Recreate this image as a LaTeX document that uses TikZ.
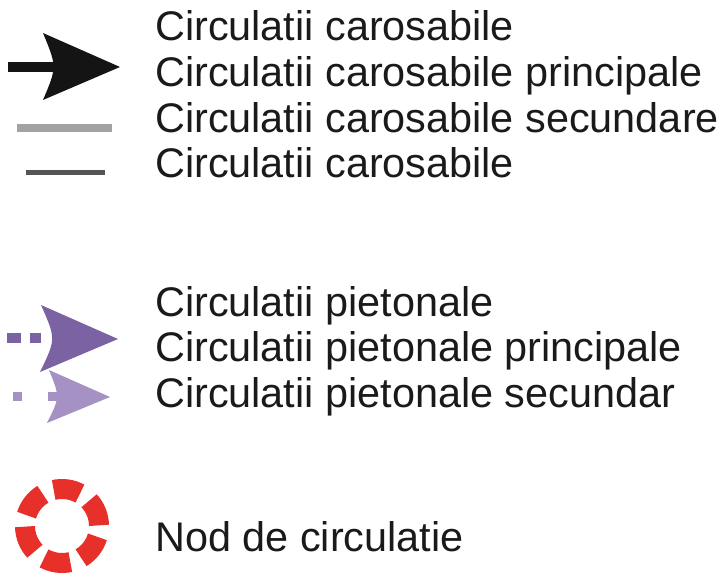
\documentclass[tikz,border=0pt]{standalone}
\usepackage{fontspec}
\setmainfont{Liberation Sans}
\definecolor{txtgray}{HTML}{1A1A1A}
\definecolor{carblack}{HTML}{141414}
\definecolor{carlight}{HTML}{A3A3A3}
\definecolor{cardark}{HTML}{555555}
\definecolor{pedmain}{HTML}{7B62A3}
\definecolor{pedlight}{HTML}{A591C4}
\definecolor{nodred}{HTML}{E8302A}
\tikzset{
  legtext/.style={anchor=base west, inner sep=0pt, text=txtgray,
    font=\fontsize{41.4}{49}\selectfont}
}
\begin{document}
\begin{tikzpicture}[x=1pt,y=1pt]
	\useasboundingbox (0,0) rectangle (721,-577);
	% circulatii carosabile
	\fill[carblack] (8,-62) rectangle (58,-72);
	\fill[carblack] (43,-33) -- (120,-67) -- (43,-100) .. controls (57,-67) .. (43,-33);
	\draw[carlight, line width=8pt] (17,-128) -- (112,-128);
	\draw[cardark, line width=5pt] (26,-172.5) -- (105,-172.5);
	\node[legtext] (car) at (155,-41) {Circulatii carosabile};
	\node[legtext] (carmain) at (155,-87) {Circulatii carosabile principale};
	\node[legtext] (carsec) at (155,-133) {Circulatii carosabile secundare};
	\node[legtext] (carloc) at (155,-178) {Circulatii carosabile};
	% circulatii pietonale
	\fill[pedmain] (7,-333) rectangle (21,-343);
	\fill[pedmain] (30,-333) rectangle (41,-343);
	\fill[pedlight] (13,-392) rectangle (22,-401);
	\fill[pedlight] (48,-392) rectangle (57,-401);
	\fill[pedlight] (49,-370) -- (110,-397) -- (47,-423) .. controls (60,-397) .. (49,-370);
	\fill[pedmain] (41,-305) -- (118,-339) -- (40,-372) .. controls (56,-339) .. (41,-305);
	\node[legtext] (ped) at (155,-317) {Circulatii pietonale};
	\node[legtext] (pedmain) at (155,-362) {Circulatii pietonale principale};
	\node[legtext] (pedsec) at (155,-408) {Circulatii pietonale secundar};
	% nod de circulatie
	\foreach \a in {82,22,-38,-98,-158,142}
		\draw[nodred, line width=20pt] ([shift={(\a-21:37)}]62,-526) arc (\a-21:\a+21:37);
	\node[legtext] (nod) at (155,-551) {Nod de circulatie};
\end{tikzpicture}
\end{document}
